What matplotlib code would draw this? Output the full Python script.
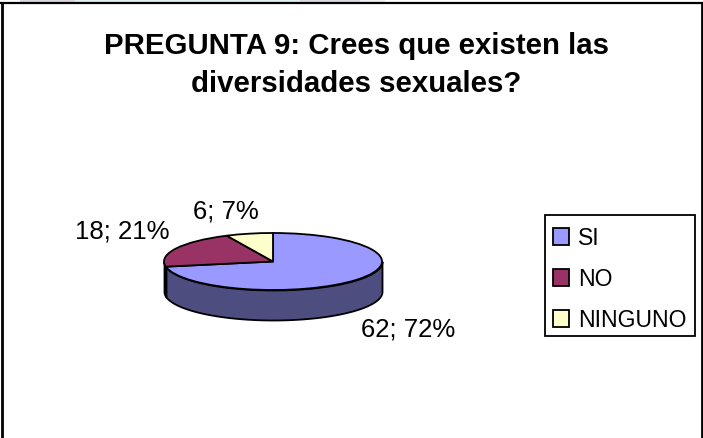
import matplotlib
matplotlib.use('Agg')
import matplotlib.pyplot as plt
import numpy as np
from matplotlib.patches import Rectangle

plt.rcParams['font.family'] = ['Liberation Sans', 'DejaVu Sans']

W, H = 703, 438

categories = ['SI', 'NO', 'NINGUNO']
counts = [62, 18, 6]
percents = [72, 21, 7]
colors = ['#9999FF', '#993366', '#FFFFCC']
side_colors = ['#4D4D80', '#4D1A33', '#808066']
title = 'PREGUNTA 9: Crees que existen las\ndiversidades sexuales?'


def px_box(x0, y0, x1, y1):
    # pixel box (y measured from the top) to figure fractions
    return [x0 / W, 1 - y1 / H, (x1 - x0) / W, (y1 - y0) / H]


fig = plt.figure(figsize=(W / 100, H / 100), dpi=100)

# bits of the slide background left above the frame
for x0, x1, c in [(20, 75, '#D9D6E0'), (75, 300, '#DDF1F3'), (300, 360, '#DCD8E2'), (360, 385, '#F0F0F3')]:
    fig.add_artist(Rectangle((x0 / W, 1 - 2 / H), (x1 - x0) / W, 2 / H, transform=fig.transFigure,
                             facecolor=c, edgecolor='none'))

# outer frame of the pasted chart, no bottom edge
fig.add_artist(plt.Line2D([2 / W, 2 / W], [0, 1 - 3 / H], color='black', lw=2.0))
fig.add_artist(plt.Line2D([701.5 / W, 701.5 / W], [0, 1 - 3 / H], color='black', lw=2.0))
fig.add_artist(plt.Line2D([1 / W, 702.5 / W], [1 - 3 / H, 1 - 3 / H], color='black', lw=1.6))

fig.text(356 / W, 1 - 65 / H, title, ha='center', va='center', fontsize=21.2,
         fontweight='bold', linespacing=1.42)

# top ellipse 218 x 57 px, rim 30 px deep
ry_px = 28.5
depth = 30 / ry_px
ax = fig.add_axes(px_box(164, 233, 382, 320))
wedges, _ = ax.pie(counts, colors=colors, startangle=90, counterclock=False, radius=1,
                   center=(0, 0), wedgeprops={'edgecolor': 'black', 'linewidth': 1.3, 'zorder': 3})

# rim: only the front half of each slice shows
ends = 90 - np.cumsum([0] + counts) / sum(counts) * 360
for i in range(len(counts)):
    a0 = ends[i + 1] % 360
    a1 = ends[i] % 360
    if a1 <= a0:
        a1 += 360
    lo = max(a0, 180)
    hi = min(a1, 360)
    if hi <= lo:
        continue
    t = np.radians(np.linspace(lo, hi, 80))
    ax.fill_between(np.cos(t), np.sin(t) - depth, np.sin(t), color=side_colors[i],
                    edgecolor='black', linewidth=1.3, zorder=2)

ax.set_aspect('auto')
ax.set_xlim(-1, 1)
ax.set_ylim(-1 - depth, 1)
ax.axis('off')
for p in ax.patches + ax.collections:
    p.set_clip_on(False)

# data labels
label_pos = [(408, 330), (122, 232), (226, 211)]
for n, pc, (lx, ly) in zip(counts, percents, label_pos):
    fig.text(lx / W, 1 - ly / H, f'{n}; {pc}%', ha='center', va='center', fontsize=18.5)

# legend, box drawn apart so the inner padding can differ from the box size
fig.add_artist(Rectangle((545 / W, 1 - 336 / H), 150 / W, 121 / H, transform=fig.transFigure,
                         facecolor='white', edgecolor='black', linewidth=1.3))
leg = fig.legend(wedges, categories, loc='upper left',
                 bbox_to_anchor=(545 / W, 1 - 219 / H), fontsize=16.6, frameon=False,
                 borderpad=0.33, labelspacing=0.78, handlelength=0.7, handleheight=0.7,
                 handletextpad=0.42, borderaxespad=0)

fig.savefig('out.png', dpi=100)
